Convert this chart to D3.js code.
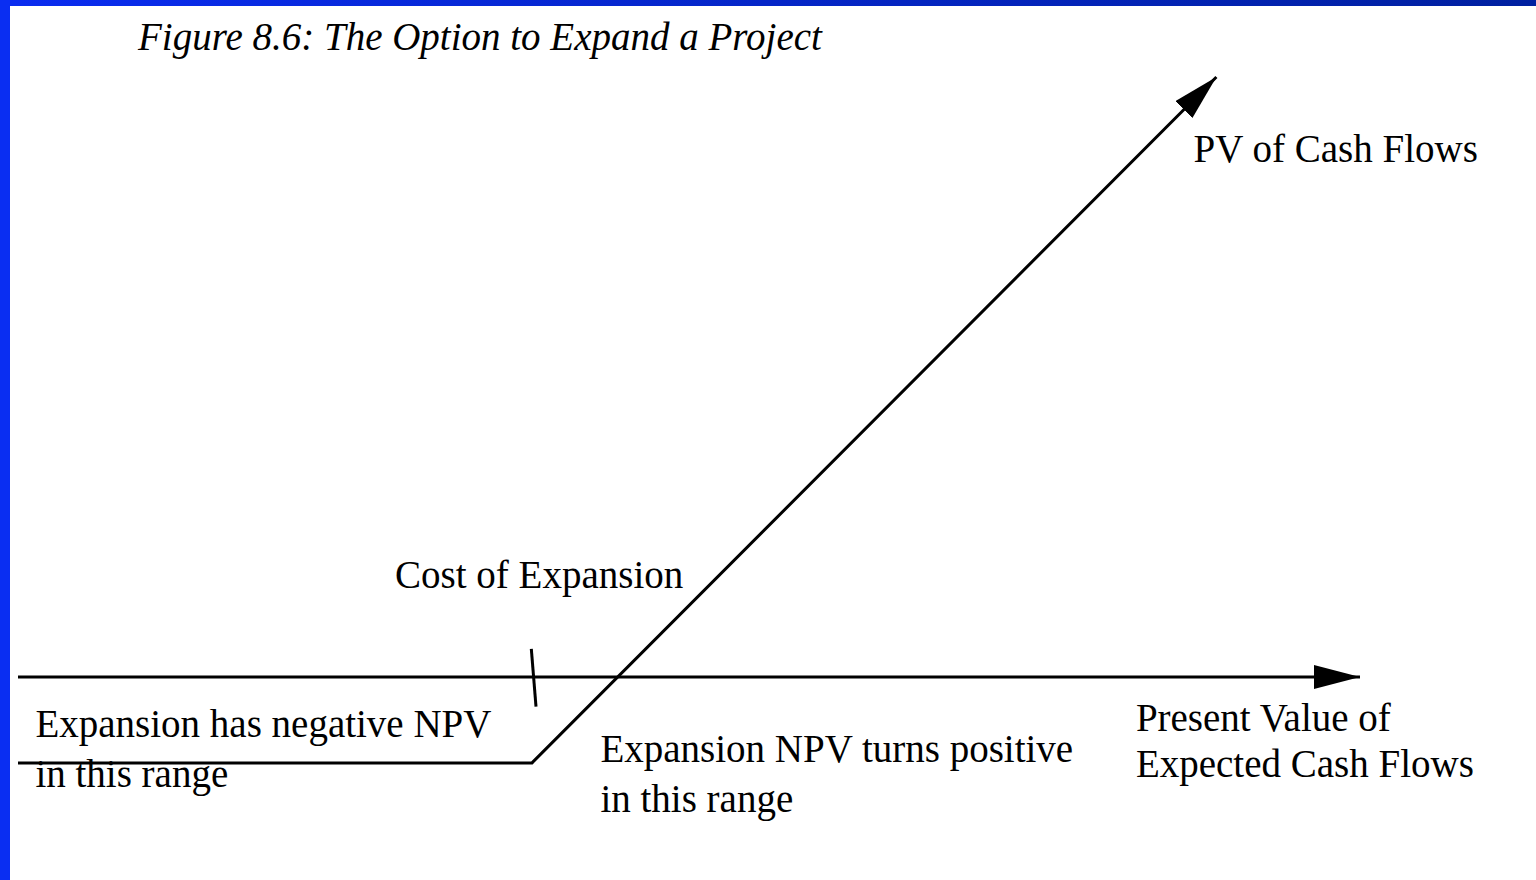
<!DOCTYPE html>
<html>
<head>
<meta charset="utf-8">
<script src="https://cdn.jsdelivr.net/npm/d3@7"></script>
<style>
  html, body { margin: 0; padding: 0; background: #fff; }
  svg text { font-family: "Liberation Serif", "Times New Roman", serif; fill: #000; }
</style>
</head>
<body>
<div id="chart"></div>
<script>
// Input values (abstract value units) ---------------------
var costOfExpansion = 38.4;       // where the tick sits on the PV axis
var axisMax = 100;                // PV axis arrow tip
var payoffPV  = [0, 38.3, 89.3];  // present value of expected cash flows
var payoffNPV = [-6.4, -6.4, 44.7]; // value of the expansion option
var tickPV  = [38.25, 38.6];      // small slanted tick marking the cost
var tickNPV = [2.1, -2.2];

var titleText = 'Figure 8.6: The Option to Expand a Project';
var labels = [
  {lines: ['PV of Cash Flows'], pv: 87.6, npv: 38.4, gap: 0},
  {lines: ['Cost of Expansion'], pv: 28.1, npv: 6.65, gap: 0},
  {lines: ['Expansion has negative NPV', 'in this range'], pv: 1.3, npv: -4.45, gap: 50},
  {lines: ['Expansion NPV turns positive', 'in this range'], pv: 43.4, npv: -6.35, gap: 50},
  {lines: ['Present Value of', 'Expected Cash Flows'], pv: 83.3, npv: -4.05, gap: 46}
];
// END input -----------------------------------------------

var width = 1536, height = 880;
var fontSize = 39;

var xScale = d3.scaleLinear().domain([0, axisMax]).range([18, 1360]),
    yScale = d3.scaleLinear().domain([0, 44.7]).range([677, 77]);

var svg = d3.select('#chart').append('svg')
    .attr('width', width)
    .attr('height', height);

var defs = svg.append('defs');
var grad = defs.append('linearGradient').attr('id', 'topbar');
grad.append('stop').attr('offset', '0%').attr('stop-color', '#0a2cf0');
grad.append('stop').attr('offset', '100%').attr('stop-color', '#0020a0');

// arrow head, tip at the end of the line
defs.append('marker')
    .attr('id', 'arrow')
    .attr('markerUnits', 'userSpaceOnUse')
    .attr('markerWidth', 48).attr('markerHeight', 26)
    .attr('refX', 46).attr('refY', 12)
    .attr('orient', 'auto')
    .append('path')
    .attr('d', 'M0,0 L46,12 L0,24 Z')
    .attr('fill', '#000');

// slide frame
svg.append('rect').attr('x', 0).attr('y', 0).attr('width', width).attr('height', 6).attr('fill', 'url(#topbar)');
svg.append('rect').attr('x', 0).attr('y', 0).attr('width', 10).attr('height', height).attr('fill', '#0a2ef2');

svg.append('text')
    .attr('x', 138).attr('y', 50)
    .style('font-size', fontSize + 'px')
    .style('font-style', 'italic')
    .text(titleText);

var line = d3.line()
    .x(function(d) { return xScale(d[0]); })
    .y(function(d) { return yScale(d[1]); });

// PV axis
svg.append('path')
    .attr('d', line([[0, 0], [axisMax, 0]]))
    .attr('stroke', '#000').attr('stroke-width', 3).attr('fill', 'none')
    .attr('marker-end', 'url(#arrow)');

// cost tick
svg.append('path')
    .attr('d', line(d3.zip(tickPV, tickNPV)))
    .attr('stroke', '#000').attr('stroke-width', 3).attr('fill', 'none');

// payoff of the option to expand
svg.append('path')
    .attr('d', line(d3.zip(payoffPV, payoffNPV)))
    .attr('stroke', '#000').attr('stroke-width', 3).attr('fill', 'none')
    .attr('stroke-linejoin', 'miter')
    .attr('marker-end', 'url(#arrow)');

// labels
var lab = svg.selectAll('.lab')
    .data(labels)
    .enter().append('text')
    .attr('class', 'lab')
    .attr('x', function(d) { return xScale(d.pv); })
    .attr('y', function(d) { return yScale(d.npv); })
    .style('font-size', fontSize + 'px');

lab.selectAll('tspan')
    .data(function(d) { return d.lines.map(function(l) { return {t: l, x: xScale(d.pv), gap: d.gap}; }); })
    .enter().append('tspan')
    .attr('x', function(d) { return d.x; })
    .attr('dy', function(d, i) { return i === 0 ? 0 : d.gap; })
    .text(function(d) { return d.t; });
</script>
</body>
</html>
